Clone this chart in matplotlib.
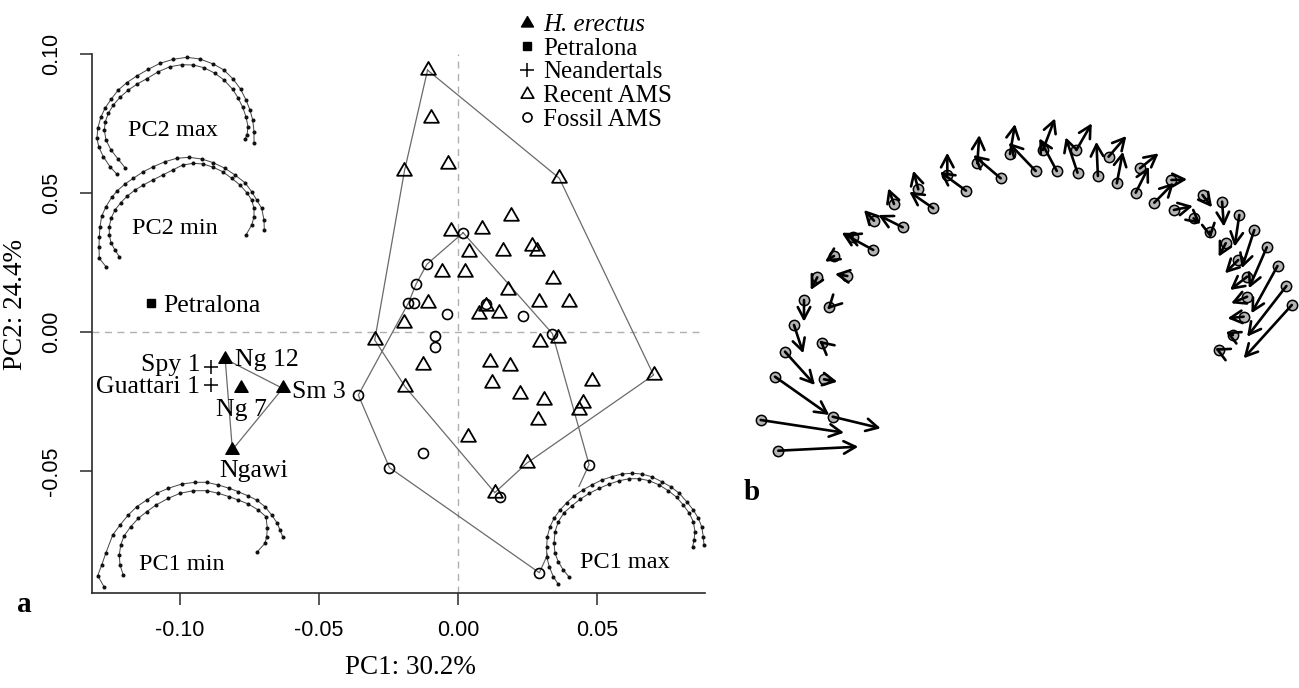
import numpy as np
import matplotlib as mpl
import matplotlib.pyplot as plt
from matplotlib.path import Path
from matplotlib.patches import Rectangle

mpl.rcParams['font.family'] = 'Liberation Serif'
mpl.rcParams['axes.unicode_minus'] = False

# ---- panel a: PC scores ----
recent_x = [-0.0110, -0.0099, -0.0193, -0.0038, 0.0364, 0.0190, -0.0026, 0.0085, 0.0039, 0.0160,
            0.0265, 0.0285, -0.0059, 0.0024, 0.0340, 0.0180, 0.0291, 0.0399, -0.0107, 0.0101,
            0.0074, 0.0148, -0.0196, -0.0300, 0.0296, 0.0360, -0.0128, 0.0113, 0.0185, 0.0122,
            -0.0190, 0.0221, 0.0703, 0.0481, 0.0309, 0.0449, 0.0433, 0.0286, 0.0037, 0.0247, 0.0132]
recent_y = [0.0942, 0.0768, 0.0580, 0.0606, 0.0553, 0.0418, 0.0363, 0.0369, 0.0286, 0.0291,
            0.0309, 0.0292, 0.0217, 0.0217, 0.0191, 0.0151, 0.0107, 0.0107, 0.0104, 0.0094,
            0.0066, 0.0069, 0.0031, -0.0029, -0.0035, -0.0023, -0.0118, -0.0107, -0.0121, -0.0182,
            -0.0198, -0.0222, -0.0155, -0.0177, -0.0245, -0.0254, -0.0282, -0.0315, -0.0378, -0.0472, -0.0578]
recent_hull = [0, 4, 32, 39, 40, 30, 23, 2, 0]

fossil_x = [0.0018, -0.0112, -0.0151, -0.0179, -0.0158, -0.0041, 0.0102, 0.0235, 0.0339,
            -0.0083, -0.0083, -0.0359, -0.0125, -0.0247, 0.0471, 0.0151, 0.0292]
fossil_y = [0.0357, 0.0244, 0.0173, 0.0104, 0.0106, 0.0064, 0.0101, 0.0059, -0.0006,
            -0.0013, -0.0053, -0.0227, -0.0436, -0.0488, -0.0477, -0.0595, -0.0866]
fossil_hull = [0, 8, 14, 16, 13, 11, 3, 2, 1, 0]

erectus_names = ['Ng 12', 'Ng 7', 'Sm 3', 'Ngawi']
erectus_x = [-0.0838, -0.0782, -0.0631, -0.0812]
erectus_y = [-0.0097, -0.0203, -0.0203, -0.0424]
erectus_hull = [0, 2, 3, 0]

neander_names = ['Spy 1', 'Guattari 1']
neander_x = [-0.0890, -0.0890]
neander_y = [-0.0125, -0.0191]

petralona_x = [-0.1105]
petralona_y = [0.0105]

legend_labels = ['H. erectus', 'Petralona', 'Neandertals', 'Recent AMS', 'Fossil AMS']

# ---- shape outlines (local units, y down) ----
pc2max_outer_x = [24.7, 18, 11.3, 6.7, 5, 5.7, 9, 13, 19, 26.3, 34.7, 44.7, 56.3, 68, 81.3, 94.7, 108, 121.3, 132, 141.3, 148.7, 154, 158, 160.7, 162, 162]
pc2max_outer_y = [122, 114.7, 104.7, 94.7, 86.3, 76.3, 64.7, 56.3, 47.3, 38, 30.7, 24, 17.3, 11.3, 7.3, 5.3, 7, 12, 18, 27.3, 37.3, 48, 58, 68, 79.7, 90.7]
pc2max_inner_x = [33, 26.3, 19, 14, 12.3, 13.3, 16.3, 21.3, 28, 36.3, 45.3, 54.7, 66.3, 78, 89.7, 101.3, 112, 123, 132, 140.7, 146.3, 150.7, 154, 156, 155, 153]
pc2max_inner_y = [115.7, 107.3, 98, 88, 78, 69.7, 61.3, 53, 45.3, 38, 32, 26.7, 19.7, 14.7, 12.7, 13, 15.7, 21.3, 28, 37.3, 46.3, 55.3, 64.7, 74.7, 83, 87]

pc2min_outer_x = [14, 7.3, 7, 7.3, 8, 9.7, 14, 19.7, 25.3, 33, 41.3, 51.3, 61.3, 73, 84.7, 97.3, 109.7, 121.3, 133, 143, 153, 159.7, 164.7, 169.7, 172, 172.3]
pc2min_outer_y = [116.7, 108.3, 96.7, 86.7, 76.7, 66, 56.7, 47.3, 40.7, 34, 28.3, 21.7, 16.7, 11.7, 8.3, 7.3, 9, 12.7, 18.3, 25, 32.7, 41.7, 50, 58.3, 70, 80]
pc2min_inner_x = [27.3, 23, 19, 17.3, 17.3, 19, 23, 28.7, 35.3, 43, 51.3, 60.7, 70.7, 80.7, 90.7, 101.3, 111.3, 121.3, 130.7, 139.7, 148, 155.3, 159.7, 162, 162, 159.7, 154]
pc2min_inner_y = [106.7, 100, 92.7, 85, 76.7, 68.3, 60, 52.7, 46, 40, 35, 30, 25, 20, 15, 13.3, 14, 17.3, 21.7, 28.3, 35, 43.3, 50, 58.3, 66.7, 75, 85]

pc1min_outer_x = [12, 5.7, 9.7, 14, 20.7, 28, 36.3, 44.7, 54.7, 64.7, 76.3, 89.7, 103, 114.7, 126.3, 137.3, 146.3, 156.3, 164.7, 173, 179.7, 185.3, 188, 190.7]
pc1min_outer_y = [116.7, 105.7, 95, 82.7, 65, 55, 45, 36.7, 30, 23.3, 18.3, 14, 12.3, 12.3, 15, 18.3, 21.7, 26, 30, 36.7, 45, 53.3, 60, 66.7]
pc1min_inner_x = [31.3, 28, 27.3, 28.7, 32, 38.7, 46.3, 54.7, 64, 76.3, 88, 101.3, 114.7, 126.3, 137.3, 146.3, 156.3, 166.3, 174, 175.3, 174.7, 173, 165.3]
pc1min_inner_y = [105, 95, 85, 75, 66, 56.7, 48.3, 41.7, 35, 28.3, 23.3, 20.7, 20.7, 23.3, 26.7, 30, 34, 40, 46.7, 58.3, 66.7, 73.3, 81.7]

pc1max_outer_x = [18.3, 13.3, 9.3, 6.7, 6.7, 7.3, 10, 14, 20, 26.7, 34, 42.7, 51.7, 61.7, 71.7, 81.7, 91.7, 101.7, 111.7, 121.7, 130.7, 139.3, 146.7, 153.3, 158.3, 161.7, 163.3, 164]
pc1max_outer_y = [114.3, 106.7, 96.7, 86.7, 76.7, 66.7, 56.7, 48.3, 40, 32.7, 26, 20, 15, 10, 6.7, 4, 3.3, 4, 6.7, 11.7, 16.7, 23.3, 31.7, 40, 48.3, 56.7, 66.7, 75]
pc1max_inner_x = [29.3, 23.3, 18.3, 15, 14, 15, 18.3, 24, 31.7, 40, 49.3, 59.3, 69.3, 79.3, 89.3, 99.3, 109.3, 119.3, 128.3, 136.7, 143.3, 149.3, 153.3, 155, 154, 152.7]
pc1max_inner_y = [107.3, 100, 91.7, 83.3, 73.3, 61.7, 51.7, 42.7, 36, 29.3, 23.3, 18.3, 14, 10.7, 8.7, 8.7, 10.7, 15, 20.7, 27.3, 35, 43.3, 51.7, 61.7, 70, 76.7]

# ---- panel b: landmark shifts (local units, y down) ----
lm_x = [38.3, 20.7, 92.7, 35, 45, 84, 54, 81.7, 64, 89.3, 77.3, 107.3, 94, 133.3, 112.7, 162.7, 134, 154, 193.3, 178.3,
        226, 207.3, 260.7, 237.3, 270, 295.7, 302.9, 316.8, 336.4, 337.5, 357.9, 368.6, 376.8, 400, 395.7, 431.4, 414.3,
        433.9, 453.6, 462.5, 469.6, 482.1, 499.3, 485.7, 514.3, 498.2, 526.8, 507.1, 537.5, 507.1, 546.4, 503.6, 492.9, 551.8, 478.6]
lm_y = [350.7, 320, 316.7, 276.7, 251.7, 279.3, 225, 242.7, 200, 207.3, 177.3, 176, 156, 150, 136.7, 127.3, 120.7, 104, 108.3, 89.3,
        90.7, 75, 78.3, 63.3, 54, 71, 50, 71, 50, 72.7, 76, 56.7, 83.3, 68.3, 92.7, 80, 102.7,
        110, 118.3, 95, 131.7, 101.7, 115, 143.3, 130, 160, 147.3, 176.7, 166, 196.7, 186, 216.7, 235, 205, 250]
tip_x = [118.3, 104, 140.7, 89.3, 75, 97.3, 63.3, 79.3, 64, 87.3, 70.7, 95, 85, 101.7, 106, 138.3, 124, 148.3, 169.3, 173.3,
         200, 207.3, 233.3, 239.3, 275, 268.6, 315, 299.3, 351.8, 325.7, 356.4, 386.4, 382.9, 418.6, 408.9, 447.1, 433.9,
         452.9, 460.7, 472.1, 470.7, 483.9, 494.6, 478.6, 501.8, 485, 508.9, 490, 511.4, 491.1, 507.1, 487.5, 485.7, 503.6, 475]
tip_y = [346.7, 332.7, 328.3, 315, 285, 281.7, 253.3, 240.7, 221.7, 209.3, 190, 174, 161.7, 132.7, 134, 115, 110, 88.3, 91.7, 70.7,
         71.7, 52.7, 55, 35, 24, 42.7, 18.3, 38.3, 23.3, 37.3, 41.7, 36, 51.7, 53.3, 66.7, 79.3, 82.7,
         106, 124, 107.3, 138.3, 126.7, 146.7, 156.7, 168.3, 173.3, 188.3, 190, 213.3, 203.3, 236.7, 218.3, 231.7, 258.3, 248.3]

W, H = 1299, 688
fig = plt.figure(figsize=(W / 100, H / 100), dpi=100)


def px_axes(x0, y0, w, h):
    a = fig.add_axes([x0 / W, 1 - (y0 + h) / H, w / W, h / H])
    a.set_xlim(0, w)
    a.set_ylim(h, 0)
    a.axis('off')
    return a


tri = Path([(-1, -0.577), (1, -0.577), (0, 1.155), (-1, -0.577)],
           [Path.MOVETO, Path.LINETO, Path.LINETO, Path.CLOSEPOLY])

ax = fig.add_axes([92 / W, 1 - 593 / H, (705 - 92) / W, (593 - 54) / H])
ax.set_xlim(-0.1317, 0.0888)
ax.set_ylim(-0.0939, 0.100)
for s in ['top', 'right']:
    ax.spines[s].set_visible(False)
for s in ['left', 'bottom']:
    ax.spines[s].set_linewidth(1.2)
    ax.spines[s].set_color('#2a2a2a')

ax.axhline(0, color='#b0b0b0', lw=1, ls=(0, (5, 4)), zorder=1)
ax.axvline(0, color='#b0b0b0', lw=1, ls=(0, (5, 4)), zorder=1)

hull_col = '#6a6a6a'
rx, ry = np.array(recent_x), np.array(recent_y)
fx, fy = np.array(fossil_x), np.array(fossil_y)
ex, ey = np.array(erectus_x), np.array(erectus_y)
ax.plot(rx[recent_hull], ry[recent_hull], color=hull_col, lw=0.9, zorder=2)
ax.plot(fx[fossil_hull], fy[fossil_hull], color=hull_col, lw=0.9, zorder=2)
ax.plot(ex[erectus_hull], ey[erectus_hull], color=hull_col, lw=0.9, zorder=2)

ax.plot(rx, ry, ls='none', marker=tri, ms=12.3, mfc='none', mec='black', mew=1.3, zorder=3)
ax.plot(fx, fy, ls='none', marker='o', ms=7.2, mfc='none', mec='black', mew=1.2, zorder=3)
ax.plot(ex, ey, ls='none', marker=tri, ms=11, mfc='black', mec='black', mew=1, zorder=3)
ax.plot(neander_x, neander_y, ls='none', marker='+', ms=10.5, mec='black', mew=1.1, zorder=3)
ax.plot(petralona_x, petralona_y, ls='none', marker='s', ms=6, mfc='black', mec='black', zorder=3)

txt = dict(fontsize=18.5, textcoords='offset pixels', va='center_baseline')
ax.annotate(neander_names[0], (neander_x[0], neander_y[0]), xytext=(-10, 4), ha='right', **txt)
ax.annotate(neander_names[1], (neander_x[1], neander_y[1]), xytext=(-11, 1), ha='right', **txt)
ax.annotate(erectus_names[0], (erectus_x[0], erectus_y[0]), xytext=(10, 1), ha='left', **txt)
ax.annotate(erectus_names[1], (erectus_x[1], erectus_y[1]), xytext=(1, -19), ha='center', **txt)
ax.annotate(erectus_names[2], (erectus_x[2], erectus_y[2]), xytext=(9, -1), ha='left', **txt)
ax.annotate(erectus_names[3], (erectus_x[3], erectus_y[3]), xytext=(21, -19), ha='center', **txt)
ax.annotate('Petralona', (petralona_x[0], petralona_y[0]), xytext=(12, -1), ha='left', **txt)

ax.set_xticks([-0.10, -0.05, 0.00, 0.05])
ax.set_yticks([-0.05, 0.00, 0.05, 0.10])
ax.set_xticklabels(['%.2f' % v for v in ax.get_xticks()], family='Liberation Sans', fontsize=15.5)
ax.set_yticklabels(['%.2f' % v for v in ax.get_yticks()], family='Liberation Sans', fontsize=15.5,
                   rotation=90, va='center')
ax.tick_params(direction='out', length=8.6, width=1.1, color='#2a2a2a', pad=11)
ax.tick_params(axis='y', pad=13)

fig.text(410 / W, 1 - 668 / H, 'PC1: 30.2%', ha='center', va='center', fontsize=19.5)
fig.text(16 / W, 1 - 304 / H, 'PC2: 24.4%', ha='center', va='center', fontsize=19.5, rotation=90)
fig.text(24 / W, 1 - 604 / H, 'a', ha='center', va='center', fontsize=21, fontweight='bold')
fig.text(752 / W, 1 - 493 / H, 'b', ha='center', va='center', fontsize=21, fontweight='bold')

# legend
lg = px_axes(500, 5, 240, 130)
leg_marks = [dict(marker=tri, ms=10, mfc='black', mec='black', mew=1),
             dict(marker='s', ms=5.8, mfc='black', mec='black'),
             dict(marker='+', ms=10, mec='black', mew=1.1),
             dict(marker=tri, ms=10.5, mfc='none', mec='black', mew=1.2),
             dict(marker='o', ms=6.5, mfc='none', mec='black', mew=1.2)]
for i, (lab, mk) in enumerate(zip(legend_labels, leg_marks)):
    yy = 17.7 + 23.6 * i
    lg.plot([26.7], [yy], ls='none', clip_on=False, **mk)
    lg.text(43, yy, lab, ha='left', va='center_baseline', fontsize=18,
            style='italic' if i == 0 else 'normal')


def draw_shape(a, ox, oy, ix, iy):
    for xs, ys in [(ox, oy), (ix, iy)]:
        a.plot(xs, ys, '-', color='#444444', lw=0.7, marker='o', ms=1.9,
               mfc='#111111', mec='#111111', clip_on=False)


s1 = px_axes(92, 52, 170, 128)
draw_shape(s1, pc2max_outer_x, pc2max_outer_y, pc2max_inner_x, pc2max_inner_y)
s1.text(81, 78, 'PC2 max', ha='center', va='center', fontsize=17.5)

s2 = px_axes(92, 150, 180, 125)
draw_shape(s2, pc2min_outer_x, pc2min_outer_y, pc2min_inner_x, pc2min_inner_y)
s2.text(83, 79, 'PC2 min', ha='center', va='center', fontsize=17.5)

s3 = px_axes(92, 470, 200, 125)
draw_shape(s3, pc1min_outer_x, pc1min_outer_y, pc1min_inner_x, pc1min_inner_y)
s3.text(90, 94, 'PC1 min', ha='center', va='center', fontsize=17.5)

s4 = px_axes(540, 470, 165, 122)
s4.add_patch(Rectangle((8, 17), 157, 103, facecolor='white', edgecolor='none', zorder=0))
draw_shape(s4, pc1max_outer_x, pc1max_outer_y, pc1max_inner_x, pc1max_inner_y)
s4.text(85, 92.7, 'PC1 max', ha='center', va='center', fontsize=17.5)

# panel b
b = px_axes(740, 100, 559, 380)
b.scatter(lm_x, lm_y, s=55, facecolor='#b4b4b4', edgecolor='black', linewidth=1.1, zorder=2, clip_on=False)
for x0, y0, x1, y1 in zip(lm_x, lm_y, tip_x, tip_y):
    b.annotate('', xy=(x1, y1), xytext=(x0, y0),
               arrowprops=dict(arrowstyle='->,head_length=0.85,head_width=0.45', lw=1.9,
                               color='black', shrinkA=0, shrinkB=0), zorder=3)

fig.savefig('out.png', dpi=100)
